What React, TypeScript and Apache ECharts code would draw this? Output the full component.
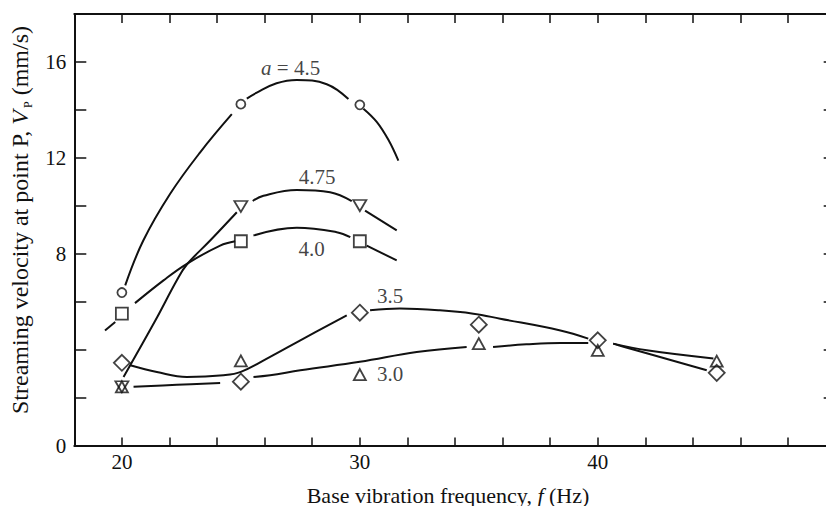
import React, { useEffect, useRef } from 'react';
import * as echarts from 'echarts';

const SERIF = '"Liberation Serif", "DejaVu Serif", serif';
const INK = '#111';

// axis ticks that carry labels
const xLabelTicks = [20, 30, 40];
const yLabelTicks = [0, 8, 12, 16];

// fitted curves (null = gap in the drawn line near a marker)
const curveA450 = [
  [20.14, 6.68], [20.9, 8.55], [22.03, 10.5], [23.29, 12.23], [24.62, 13.82], null,
  [25.25, 14.47], [25.67, 14.72], [26.5, 15.11], [27.35, 15.25], [28.61, 15.07], [29.52, 14.45], null,
  [30.15, 14.05], [30.71, 13.5], [31.2, 12.75], [31.62, 11.88],
];
const curveA475 = [
  [20.07, 2.86], [21.4, 5.2], [22.31, 6.89], [22.73, 7.55], [23.71, 8.55], [24.83, 9.73], null,
  [25.5, 10.2], [25.95, 10.42], [27.35, 10.66], [28.75, 10.56], [29.66, 10.19], null,
  [30.22, 9.8], [31.55, 8.97],
];
const curveA400 = [
  [19.29, 4.8], [19.72, 5.15], null,
  [20.55, 5.94], [21.75, 6.89], [22.73, 7.58], [24.13, 8.34], [24.76, 8.52], null,
  [25.53, 8.76], [27.35, 9.08], [29.03, 8.9], [29.6, 8.69], null,
  [30.29, 8.34], [31.55, 7.72],
];
const curveA350 = [
  [20.35, 3.35], [21.47, 3.07], [22.73, 2.86], [24.27, 2.93], [25.0, 3.07], [26.23, 3.7],
  [27.5, 4.39], [29.45, 5.43], null,
  [30.43, 5.64], [31.68, 5.71], [33.36, 5.64], [34.77, 5.5], [35.9, 5.29], [38.43, 4.8], [39.6, 4.46], null,
  [40.65, 4.25], [41.12, 4.11], [44.58, 3.14],
];
const curveA300 = [
  [20.49, 2.45], [22.31, 2.53], [24.13, 2.61], null,
  [25.53, 2.86], [26.23, 2.93], [27.5, 3.14], [30.0, 3.49], [32.39, 3.9], [34.49, 4.11], null,
  [35.6, 4.11], [37.0, 4.22], [38.43, 4.28], [39.6, 4.28], null,
  [40.65, 4.25], [42.06, 3.97], [44.86, 3.63],
];

// measured points
const markerA450 = [[20, 6.38], [25, 14.24], [30, 14.21]];
const markerA475 = [[20, 2.45], [25, 9.97], [30, 10.01]];
const markerA400 = [[20, 5.5], [25, 8.52], [30, 8.52]];
const markerA350 = [[20, 3.45], [25, 2.66], [30, 5.54], [35, 5.04], [40, 4.39], [45, 3.03]];
const markerA300 = [[20, 2.45], [25, 3.53], [30, 2.96], [35, 4.25], [40, 3.97], [45, 3.52]];

// curve labels (data coordinates of label centres)
const labelTexts = ['a = 4.5', '4.75', '4.0', '3.5', '3.0'];
const labelX = [27.09, 28.21, 27.97, 31.27, 31.27];
const labelY = [15.75, 11.19, 8.2, 6.22, 3.0];

// split a curve at its null gaps into separate polylines
const splitSegments = (pts: (number[] | null)[]) => {
  const segs: number[][][] = [];
  let cur: number[][] = [];
  pts.forEach((p) => {
    if (p === null) {
      if (cur.length) segs.push(cur);
      cur = [];
    } else cur.push(p);
  });
  if (cur.length) segs.push(cur);
  return segs;
};

export default function App() {
  const ref = useRef<HTMLDivElement>(null);

  useEffect(() => {
    if (!ref.current) return;
    const chart = echarts.init(ref.current, undefined, { renderer: 'svg' });

    const lineSeries = (data: (number[] | null)[]) =>
      splitSegments(data).map((seg) => ({
        type: 'line',
        data: seg,
        smooth: 0.4,
        symbol: 'none',
        lineStyle: { color: INK, width: 2 },
        z: 2,
        silent: true,
      }));

    const markerSeries = (data: number[][], symbol: string, size: any, rotate = 0, z = 4) => ({
      type: 'scatter',
      data,
      symbol,
      symbolSize: size,
      symbolRotate: rotate,
      itemStyle: { color: 'rgba(0,0,0,0)', borderColor: INK, borderWidth: 1.8 },
      z,
      silent: true,
    });

    const axisCommon = {
      type: 'value',
      splitLine: { show: false },
      axisLine: { show: true, onZero: false, lineStyle: { color: INK, width: 2 } },
    };

    chart.setOption({
      animation: false,
      backgroundColor: '#fff',
      grid: { left: 74.3, right: 4.3, top: 14, bottom: 60.5, containLabel: false },
      xAxis: [
        {
          ...axisCommon,
          position: 'bottom',
          min: 18,
          max: 50,
          interval: 2,
          axisTick: { show: true, inside: true, length: 8, lineStyle: { color: INK, width: 1.5 } },
          axisLabel: {
            show: true,
            margin: 6,
            color: INK,
            fontFamily: SERIF,
            fontSize: 21,
            formatter: (v: number) => (xLabelTicks.includes(v) ? String(v) : ''),
          },
        },
        {
          ...axisCommon,
          position: 'top',
          min: 18,
          max: 50,
          interval: 2,
          axisTick: { show: true, inside: true, length: 9, lineStyle: { color: INK, width: 1.5 } },
          axisLabel: { show: false },
        },
      ],
      yAxis: [
        {
          ...axisCommon,
          position: 'left',
          min: 0,
          max: 18,
          interval: 2,
          axisTick: { show: true, inside: true, length: 12, lineStyle: { color: INK, width: 1.5 } },
          axisLabel: {
            show: true,
            margin: 8,
            color: INK,
            fontFamily: SERIF,
            fontSize: 21,
            formatter: (v: number) => (yLabelTicks.includes(v) ? String(v) : ''),
          },
        },
        {
          ...axisCommon,
          position: 'right',
          min: 0,
          max: 18,
          interval: 2,
          axisTick: { show: true, inside: true, length: 12, lineStyle: { color: INK, width: 1.5 } },
          axisLabel: { show: false },
        },
      ],
      graphic: [
        {
          type: 'text',
          x: 448,
          y: 495,
          silent: true,
          style: {
            text: '{n|Base vibration frequency, }{i|f}{n| (Hz)}',
            align: 'center',
            verticalAlign: 'middle',
            fill: INK,
            fontFamily: SERIF,
            fontSize: 22,
            rich: {
              n: { fontFamily: SERIF, fontSize: 22, fill: INK },
              i: { fontFamily: SERIF, fontSize: 22, fontStyle: 'italic', fill: INK },
            },
          },
        },
        {
          type: 'text',
          x: 20,
          y: 220,
          rotation: Math.PI / 2,
          silent: true,
          style: {
            text: '{n|Streaming velocity at point P, }{i|V}{s|P}{n| (mm/s)}',
            align: 'center',
            verticalAlign: 'middle',
            fill: INK,
            fontFamily: SERIF,
            fontSize: 24,
            rich: {
              n: { fontFamily: SERIF, fontSize: 24, fill: INK, lineHeight: 28 },
              i: { fontFamily: SERIF, fontSize: 24, fontStyle: 'italic', fill: INK, lineHeight: 28 },
              s: { fontFamily: SERIF, fontSize: 12, fill: INK, lineHeight: 13, verticalAlign: 'bottom', padding: [0, 0, 0, 2] },
            },
          },
        },
      ],
      series: [
        ...lineSeries(curveA450),
        ...lineSeries(curveA475),
        ...lineSeries(curveA400),
        ...lineSeries(curveA350),
        ...lineSeries(curveA300),
        markerSeries(markerA450, 'circle', 9),
        markerSeries(markerA400, 'rect', 12),
        markerSeries(markerA350, 'diamond', [16, 16]),
        markerSeries(markerA300, 'triangle', [12, 11], 0, 4),
        markerSeries(markerA475, 'triangle', [13, 11], 180, 5),
        {
          type: 'scatter',
          data: labelTexts.map((t, i) => ({ name: t, value: [labelX[i], labelY[i]] })),
          symbolSize: 1,
          itemStyle: { color: 'rgba(0,0,0,0)' },
          silent: true,
          z: 6,
          label: {
            show: true,
            position: 'inside',
            color: INK,
            textBorderWidth: 0,
            fontFamily: SERIF,
            fontSize: 21,
            formatter: (p: any) =>
              p.name.startsWith('a ') ? '{i|a}' + p.name.slice(1) : p.name,
            rich: {
              i: { fontFamily: SERIF, fontSize: 21, fontStyle: 'italic', color: INK, textBorderWidth: 0 },
            },
          },
        },
      ],
    });

    return () => chart.dispose();
  }, []);

  return (
    <div
      style={{
        position: 'fixed',
        left: 0,
        top: 0,
        width: 826,
        height: 506,
        overflow: 'hidden',
        background: '#fff',
      }}
    >
      <div ref={ref} style={{ width: 840, height: 506 }} />
    </div>
  );
}
